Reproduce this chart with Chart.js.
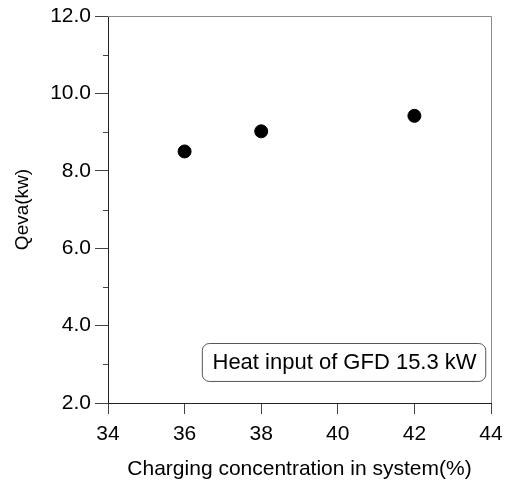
<!DOCTYPE html>
<html>
<head>
<meta charset="utf-8">
<script src="https://cdn.jsdelivr.net/npm/chart.js@4.4.0/dist/chart.umd.min.js"></script>
<style>
html,body{margin:0;padding:0;background:#fff;}
#wrap{width:505px;height:482px;position:relative;}
</style>
</head>
<body>
<div id="wrap"><canvas id="c" width="505" height="482"></canvas></div>
<script>
const concentration = [36, 38, 42];
const qeva = [8.5, 9.02, 9.42];
const xTicks = [34, 36, 38, 40, 42, 44];
const yTicks = [2, 4, 6, 8, 10, 12];
const yMinorTicks = [3, 5, 7, 9, 11];
const noteText = 'Heat input of GFD 15.3 kW';

const FONT = 'Liberation Sans, Arial, sans-serif';

const framePlugin = {
  id: 'frame',
  afterDraw(chart) {
    const {ctx, chartArea: a, scales} = chart;
    ctx.save();
    ctx.strokeStyle = '#8a8a8a';
    ctx.lineWidth = 1;
    ctx.beginPath();
    ctx.moveTo(a.left, a.top + 0.5); ctx.lineTo(a.right + 0.5, a.top + 0.5);
    ctx.lineTo(a.right + 0.5, a.bottom);
    ctx.stroke();
    ctx.strokeStyle = '#444';
    ctx.beginPath();
    yMinorTicks.forEach(v => {
      const y = Math.round(scales.y.getPixelForValue(v)) + 0.5;
      ctx.moveTo(a.left - 5, y); ctx.lineTo(a.left, y);
    });
    ctx.stroke();
    const bx = scales.x.getPixelForValue(36.45);
    const bx2 = scales.x.getPixelForValue(43.85);
    const by = scales.y.getPixelForValue(3.55);
    const by2 = scales.y.getPixelForValue(2.57);
    ctx.strokeStyle = '#555';
    ctx.lineWidth = 1;
    ctx.beginPath();
    ctx.roundRect(bx + 0.5, by + 0.5, bx2 - bx, by2 - by, 7);
    ctx.fillStyle = '#fff';
    ctx.fill();
    ctx.stroke();
    ctx.fillStyle = '#000';
    ctx.font = '22px ' + FONT;
    ctx.textAlign = 'center';
    ctx.textBaseline = 'middle';
    ctx.fillText(noteText, (bx + bx2) / 2 + 1, (by + by2) / 2 + 1);
    ctx.restore();
  }
};

new Chart(document.getElementById('c'), {
  type: 'scatter',
  data: {
    datasets: [{
      data: concentration.map((x, i) => ({x, y: qeva[i]})),
      backgroundColor: '#000',
      borderColor: '#000',
      pointRadius: 6.5,
      pointHoverRadius: 6.5,
      pointStyle: 'circle'
    }]
  },
  options: {
    responsive: false,
    animation: false,
    events: [],
    layout: {padding: {top: 16, right: 14, left: 0, bottom: 0}},
    plugins: {legend: {display: false}, tooltip: {enabled: false}},
    scales: {
      x: {
        type: 'linear',
        min: 34, max: 44,
        afterBuildTicks: s => { s.ticks = xTicks.map(v => ({value: v})); },
        afterFit: s => { s.height = 79; s.paddingLeft = 0; s.paddingRight = 0; },
        border: {display: true, color: '#222', width: 1},
        grid: {drawOnChartArea: false, drawTicks: true, tickLength: 11, tickColor: '#444'},
        ticks: {color: '#000', font: {family: FONT, size: 21}, padding: 8, maxRotation: 0},
        title: {display: true, text: 'Charging concentration in system(%)', color: '#000',
                font: {family: FONT, size: 21}, padding: {top: 4, bottom: 0}}
      },
      y: {
        type: 'linear',
        min: 2, max: 12,
        afterBuildTicks: s => { s.ticks = yTicks.map(v => ({value: v})); },
        afterFit: s => { s.width = 108; s.paddingTop = 0; s.paddingBottom = 0; },
        border: {display: true, color: '#222', width: 1},
        grid: {drawOnChartArea: false, drawTicks: true, tickLength: 13, tickColor: '#444'},
        ticks: {color: '#000', font: {family: FONT, size: 21}, padding: 4,
                callback: v => v.toFixed(1)},
        title: {display: true, text: 'Qeva(kw)', color: '#000',
                font: {family: FONT, size: 19}, padding: {top: 11, bottom: 0}}
      }
    }
  },
  plugins: [framePlugin]
});
</script>
</body>
</html>
